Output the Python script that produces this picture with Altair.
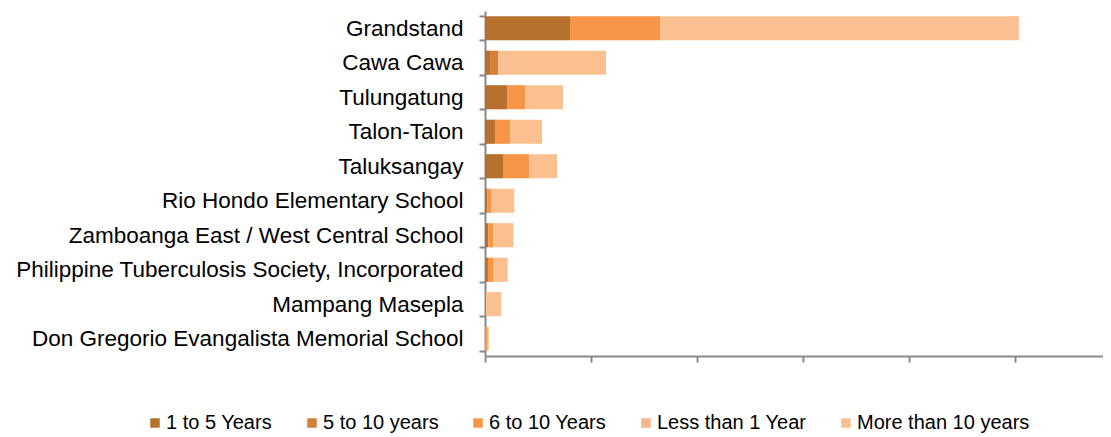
import altair as alt
import pandas as pd

categories = [
    "Grandstand",
    "Cawa Cawa",
    "Tulungatung",
    "Talon-Talon",
    "Taluksangay",
    "Rio Hondo Elementary School",
    "Zamboanga East / West Central School",
    "Philippine Tuberculosis Society, Incorporated",
    "Mampang Masepla",
    "Don Gregorio Evangalista Memorial School",
]
series = ["1 to 5 Years", "5 to 10 years", "6 to 10 Years", "Less than 1 Year", "More than 10 years"]
colors = ["#B7712F", "#D5803A", "#F79646", "#F8B48B", "#FAC090"]

v_1_5 = [40.1, 2.4, 10.4, 4.7, 8.5, 1.2, 1.6, 1.4, 0.4, 0]
v_5_10 = [0, 3.8, 0, 0, 0, 0, 0, 0, 0, 0]
v_6_10 = [42.5, 0, 8.5, 7.1, 12.3, 1.9, 2.4, 2.4, 0, 1.2]
v_lt1 = [0, 0, 0, 0, 0, 0, 0, 0, 0, 0]
v_gt10 = [169.2, 50.9, 17.9, 15.1, 13.2, 10.7, 9.4, 6.9, 7.3, 0.6]

x_ticks = [0, 50, 100, 150, 200, 250]

rows = []
for i, vals in enumerate([v_1_5, v_5_10, v_6_10, v_lt1, v_gt10]):
    for c, v in zip(categories, vals):
        rows.append({"site": c, "series": series[i], "idx": i, "value": v})
df = pd.DataFrame(rows)

FONT = "Liberation Sans"
GRAY = "#898989"

chart = alt.Chart(df).mark_bar().encode(
    y=alt.Y(
        "site:N",
        sort=categories,
        scale=alt.Scale(paddingInner=0.3, paddingOuter=0.15),
        axis=alt.Axis(
            title=None, labelFontSize=22.5, labelFont=FONT, labelColor="black",
            tickBand="extent", tickSize=6, tickColor=GRAY, tickWidth=2,
            domainColor=GRAY, domainWidth=2, labelPadding=16, labelLimit=600,
        ),
    ),
    x=alt.X(
        "value:Q",
        stack="zero",
        scale=alt.Scale(domain=[0, 291.5], nice=False),
        axis=alt.Axis(
            title=None, values=x_ticks, labels=False, grid=False,
            tickSize=6, tickColor=GRAY, tickWidth=2,
            domainColor=GRAY, domainWidth=2,
        ),
    ),
    color=alt.Color(
        "series:N",
        scale=alt.Scale(domain=series, range=colors),
        legend=alt.Legend(
            title=None, orient="none", direction="horizontal",
            legendX=-340, legendY=402, symbolType="square", symbolSize=90,
            symbolStrokeWidth=0, labelFontSize=20, labelFont=FONT, labelColor="black",
            columnPadding=29, labelOffset=1, padding=0, columns=5, labelLimit=400,
        ),
    ),
    order=alt.Order("idx:Q"),
).properties(
    width=618,
    height=345,
    autosize=alt.AutoSizeParams(type="none"),
    padding={"left": 477, "top": 3, "right": 0, "bottom": 80},
).configure_view(stroke=None)

chart.save("out.html", embed_options={"renderer": "svg", "actions": False})
